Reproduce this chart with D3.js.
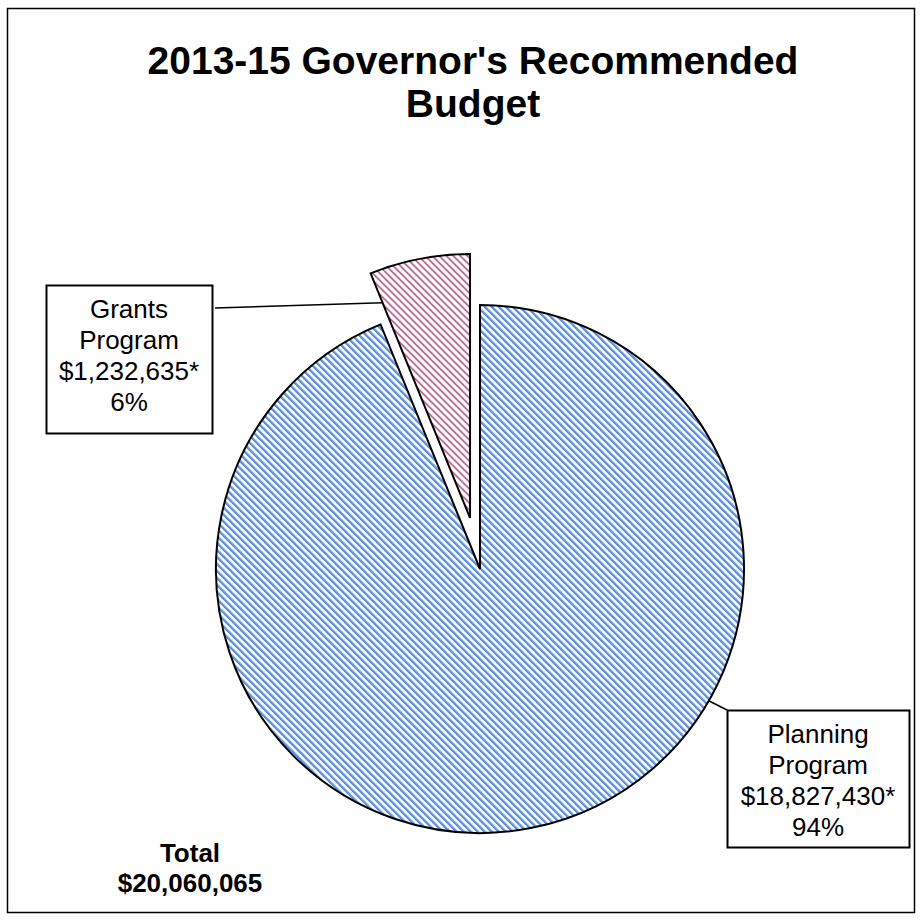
<!DOCTYPE html>
<html>
<head>
<meta charset="utf-8">
<script src="https://cdn.jsdelivr.net/npm/d3@7"></script>
<style>
  html, body { margin: 0; padding: 0; background: #fff; }
  svg { display: block; font-family: "Liberation Sans", Arial, sans-serif; }
</style>
</head>
<body>
<svg id="chart" width="922" height="920"></svg>
<script>
// Budget programs and their amounts
const programs = ["Planning Program", "Grants Program"];
const amounts = [18827430, 1232635];
const percentLabels = ["94%", "6%"];
const totalAmount = 20060065;
const titleLines = ["2013-15 Governor's Recommended", "Budget"];

const svg = d3.select("#chart");

// outer chart border
svg.append("rect")
  .attr("x", 7.5).attr("y", 8.5)
  .attr("width", 907).attr("height", 904)
  .attr("fill", "#fff").attr("stroke", "#000").attr("stroke-width", 1.5);

// pixel hatch tiles: downward diagonal stripes
const defs = svg.append("defs");
function hatch(id, shades) {
  const n = shades.length;
  const p = defs.append("pattern")
    .attr("id", id)
    .attr("patternUnits", "userSpaceOnUse")
    .attr("width", n).attr("height", n);
  for (let y = 0; y < n; y++) {
    for (let x = 0; x < n; x++) {
      p.append("rect")
        .attr("x", x).attr("y", y).attr("width", 1).attr("height", 1)
        .attr("shape-rendering", "crispEdges")
        .attr("fill", shades[((x - y) % n + n) % n]);
    }
  }
  return `url(#${id})`;
}
const fills = [
  hatch("hatchBlue", ["#5b8edb", "#5f92dd", "#7aa4e3", "#c4d7f4", "#ffffff", "#ffffff", "#dce8f8"]),
  hatch("hatchPink", ["#b4608a", "#c27fa0", "#ecd3df", "#ffffff", "#ffffff", "#ffffff", "#e7c6d6"])
];

// title
const title = svg.append("text")
  .attr("text-anchor", "middle")
  .attr("font-weight", "bold")
  .attr("font-size", 39)
  .attr("fill", "#000");
titleLines.forEach((t, i) => {
  title.append("tspan").attr("x", 473).attr("y", 74 + i * 43).text(t);
});

// pie
const cx = 480, cy = 569, R = 264;
const explode = [0, 52];
const pie = d3.pie().sort(null).value(d => d)(amounts);
const arc = d3.arc().innerRadius(0).outerRadius(R);

const slices = svg.append("g").attr("transform", `translate(${cx},${cy})`);
slices.selectAll("path")
  .data(pie)
  .join("path")
  .attr("transform", (d, i) => {
    const a = (d.startAngle + d.endAngle) / 2;
    return `translate(${Math.sin(a) * explode[i]},${-Math.cos(a) * explode[i]})`;
  })
  .attr("d", arc)
  .attr("fill", (d, i) => fills[i])
  .attr("stroke", "#000")
  .attr("stroke-width", 2)
  .attr("stroke-linejoin", "miter");

// data labels in boxed callouts
const fmt = d3.format("$,");
const labelBoxes = [
  { x: 727, y: 710, w: 182, h: 137 },
  { x: 46, y: 285, w: 166, h: 148 }
];
function pointOn(d, i, angle, r) {
  const a = (d.startAngle + d.endAngle) / 2;
  const ox = Math.sin(a) * explode[i], oy = -Math.cos(a) * explode[i];
  return [cx + ox + Math.sin(angle) * r, cy + oy - Math.cos(angle) * r];
}
// leader anchors on each slice
const anchors = [
  pointOn(pie[0], 0, pie[0].startAngle + (pie[0].endAngle - pie[0].startAngle) * 0.355, R),
  pointOn(pie[1], 1, pie[1].startAngle + 0.0005, R * 0.88)
];
const boxEnds = [
  [labelBoxes[0].x, labelBoxes[0].y],
  [labelBoxes[1].x + labelBoxes[1].w + 3, labelBoxes[1].y + 23]
];
anchors.forEach((p, i) => {
  svg.append("line")
    .attr("x1", p[0]).attr("y1", p[1])
    .attr("x2", boxEnds[i][0]).attr("y2", boxEnds[i][1])
    .attr("stroke", "#000").attr("stroke-width", 1.5);
});

programs.forEach((name, i) => {
  const b = labelBoxes[i];
  svg.append("rect")
    .attr("x", b.x + 0.5).attr("y", b.y + 0.5)
    .attr("width", b.w).attr("height", b.h)
    .attr("fill", "#fff").attr("stroke", "#000").attr("stroke-width", 2);
  const words = name.split(" ");
  const lines = [words[0], words[1], fmt(amounts[i]) + "*", percentLabels[i]];
  const t = svg.append("text")
    .attr("text-anchor", "middle")
    .attr("font-size", 26)
    .attr("fill", "#000");
  lines.forEach((l, k) => {
    t.append("tspan")
      .attr("x", b.x + b.w / 2)
      .attr("y", b.y + 33 + k * 31)
      .text(l);
  });
});

// total note
const tot = svg.append("text")
  .attr("text-anchor", "middle")
  .attr("font-weight", "bold")
  .attr("font-size", 26)
  .attr("fill", "#000");
tot.append("tspan").attr("x", 190).attr("y", 862).text("Total");
tot.append("tspan").attr("x", 190).attr("y", 892).text(fmt(totalAmount));
</script>
</body>
</html>
